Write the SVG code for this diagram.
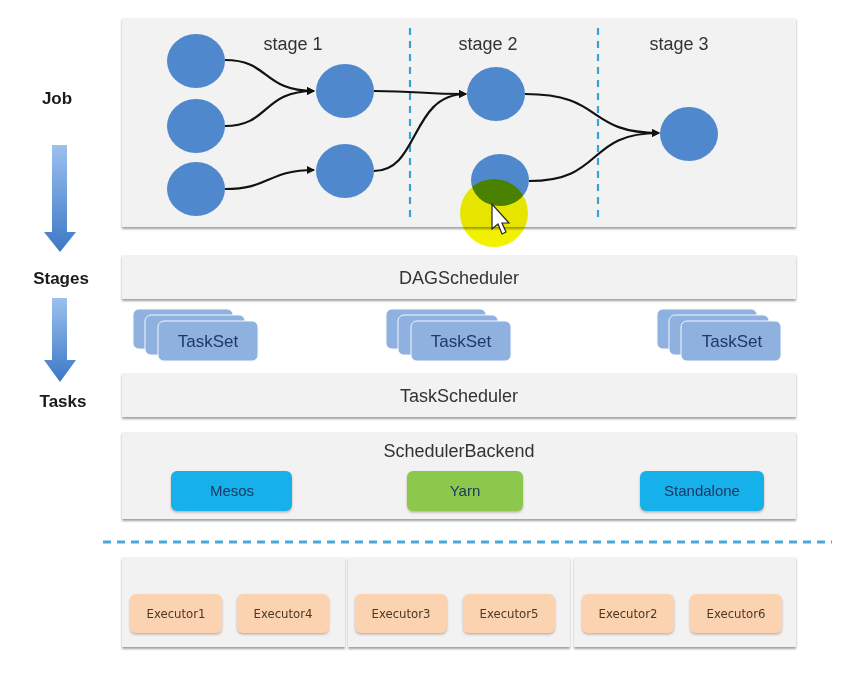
<svg xmlns="http://www.w3.org/2000/svg" width="859" height="689" viewBox="0 0 859 689">
<defs>
<style>
.panel{fill:#f2f2f2;filter:url(#sh)}
.node{fill:#4f88cc}
.edge{fill:none;stroke:#111;stroke-width:2.2;marker-end:url(#ah)}
.vdash{stroke:#3aa3d6;stroke-width:2.2;stroke-dasharray:7,6}
.lbl{font-family:"Liberation Sans",Arial,sans-serif;fill:#333;text-anchor:middle}
.side{font-family:"Liberation Sans",Arial,sans-serif;font-weight:bold;font-size:17px;fill:#1a1a1a;text-anchor:middle}
.ts{fill:#8eb1e0;stroke:#f4f7fb;stroke-width:1}
.tst{font-family:"Liberation Sans",Arial,sans-serif;font-size:17px;fill:#1f3864;text-anchor:middle}
.btn{font-family:"Liberation Sans",Arial,sans-serif;font-size:15px;fill:#1f3864;text-anchor:middle}
.ex{fill:#fbd3b0;filter:url(#sh2)}
.ext{font-family:"Liberation Sans Narrow","DejaVu Sans Condensed","Liberation Sans",sans-serif;font-size:13px;fill:#4a3826;text-anchor:middle}
</style>
<filter id="sh" x="-5%" y="-10%" width="110%" height="125%">
<feDropShadow dx="0" dy="2" stdDeviation="1" flood-color="#888" flood-opacity="0.8"/>
</filter>
<filter id="sh2" x="-10%" y="-10%" width="120%" height="130%">
<feDropShadow dx="0" dy="1.5" stdDeviation="1" flood-color="#a08070" flood-opacity="0.6"/>
</filter>
<marker id="ah" markerWidth="8" markerHeight="8" refX="7" refY="4" orient="auto" markerUnits="userSpaceOnUse">
<path d="M0,0 L8,4 L0,8 Z" fill="#111"/>
</marker>
<linearGradient id="ag" x1="0" y1="0" x2="0" y2="1">
<stop offset="0" stop-color="#9cc0ee"/>
<stop offset="1" stop-color="#3b78c6"/>
</linearGradient>
</defs>
<rect width="859" height="689" fill="#ffffff"/>

<!-- Left labels and arrows -->
<g id="side-labels">
<text class="side" x="57" y="104">Job</text>
<text class="side" x="61" y="284">Stages</text>
<text class="side" x="63" y="407">Tasks</text>
<path d="M52,145 L67,145 L67,232 L76,232 L60,252 L44,232 L52,232 Z" fill="url(#ag)"/>
<path d="M52,298 L67,298 L67,360 L76,360 L60,382 L44,360 L52,360 Z" fill="url(#ag)"/>
</g>

<!-- Job panel -->
<g id="job-panel">
<rect class="panel" x="122" y="18" width="674" height="209"/>
<line class="vdash" x1="410" y1="28" x2="410" y2="222"/>
<line class="vdash" x1="598" y1="28" x2="598" y2="222"/>
<text class="lbl" x="293" y="50" font-size="18">stage 1</text>
<text class="lbl" x="488" y="50" font-size="18">stage 2</text>
<text class="lbl" x="679" y="50" font-size="18">stage 3</text>
</g>

<g id="connectors">
<path class="edge" d="M225,60 C270,60 262,91 314,91"/>
<path class="edge" d="M225,126 C270,126 262,91 314,91"/>
<path class="edge" d="M225,189 C270,189 268,170 314,170"/>
<path class="edge" d="M374,91 C420,91 420,94 466,94"/>
<path class="edge" d="M374,171 C420,171 410,94 466,94"/>
<path class="edge" d="M525,94 C605,94 585,133 659,133"/>
<path class="edge" d="M529,181 C605,181 585,133 659,133"/>
</g>

<g id="n-a"><ellipse class="node" cx="196" cy="61" rx="29" ry="27"/></g>
<g id="n-b"><ellipse class="node" cx="196" cy="126" rx="29" ry="27"/></g>
<g id="n-c"><ellipse class="node" cx="196" cy="189" rx="29" ry="27"/></g>
<g id="n-d"><ellipse class="node" cx="345" cy="91" rx="29" ry="27"/></g>
<g id="n-e"><ellipse class="node" cx="345" cy="171" rx="29" ry="27"/></g>
<g id="n-f"><ellipse class="node" cx="496" cy="94" rx="29" ry="27"/></g>
<g id="n-g"><ellipse class="node" cx="500" cy="180" rx="29" ry="26"/></g>
<g id="n-h"><ellipse class="node" cx="689" cy="134" rx="29" ry="27"/></g>

<!-- cursor highlight -->
<g id="cursor">
<circle cx="494" cy="213" r="34" fill="#f2f200" style="mix-blend-mode:multiply"/>
<path d="M492,204 L492,229 L498,224 L502,234 L506,232 L502,223 L509,223 Z" fill="#fff" stroke="#222" stroke-width="1.2"/>
</g>

<!-- DAGScheduler -->
<g id="dag">
<rect class="panel" x="122" y="255" width="674" height="44"/>
<text class="lbl" x="459" y="284" font-size="18">DAGScheduler</text>
</g>

<!-- TaskSets -->
<g id="taskset-1">
<rect class="ts" x="133" y="309" width="100" height="40" rx="6"/>
<rect class="ts" x="145" y="315" width="100" height="40" rx="6"/>
<rect class="ts" x="158" y="321" width="100" height="40" rx="6"/>
<text class="tst" x="208" y="347">TaskSet</text>
</g>
<g id="taskset-2">
<rect class="ts" x="386" y="309" width="100" height="40" rx="6"/>
<rect class="ts" x="398" y="315" width="100" height="40" rx="6"/>
<rect class="ts" x="411" y="321" width="100" height="40" rx="6"/>
<text class="tst" x="461" y="347">TaskSet</text>
</g>
<g id="taskset-3">
<rect class="ts" x="657" y="309" width="100" height="40" rx="6"/>
<rect class="ts" x="669" y="315" width="100" height="40" rx="6"/>
<rect class="ts" x="681" y="321" width="100" height="40" rx="6"/>
<text class="tst" x="732" y="347">TaskSet</text>
</g>

<!-- TaskScheduler -->
<g id="taskscheduler">
<rect class="panel" x="122" y="373" width="674" height="44"/>
<text class="lbl" x="459" y="402" font-size="18">TaskScheduler</text>
</g>

<!-- SchedulerBackend -->
<g id="schedulerbackend">
<rect class="panel" x="122" y="432" width="674" height="87"/>
<text class="lbl" x="459" y="457" font-size="18">SchedulerBackend</text>
</g>
<g id="mesos">
<rect x="171" y="471" width="121" height="40" rx="6" fill="#12b0ea" filter="url(#sh2)"/>
<text class="btn" x="232" y="496">Mesos</text>
</g>
<g id="yarn">
<rect x="407" y="471" width="116" height="40" rx="6" fill="#8cc84b" filter="url(#sh2)"/>
<text class="btn" x="465" y="496">Yarn</text>
</g>
<g id="standalone">
<rect x="640" y="471" width="124" height="40" rx="6" fill="#12b0ea" filter="url(#sh2)"/>
<text class="btn" x="702" y="496">Standalone</text>
</g>

<line x1="103" y1="542" x2="832" y2="542" stroke="#4aa8d8" stroke-width="3" stroke-dasharray="8,6"/>

<!-- Executor panels -->
<g id="worker-1">
<rect class="panel" x="122" y="557" width="223" height="90"/>
</g>
<g id="worker-2">
<rect class="panel" x="348" y="557" width="222" height="90"/>
</g>
<g id="worker-3">
<rect class="panel" x="574" y="557" width="222" height="90"/>
</g>
<g id="executor1"><rect class="ex" x="130" y="594" width="92" height="39" rx="6"/><text class="ext" x="176" y="618">Executor1</text></g>
<g id="executor4"><rect class="ex" x="237" y="594" width="92" height="39" rx="6"/><text class="ext" x="283" y="618">Executor4</text></g>
<g id="executor3"><rect class="ex" x="355" y="594" width="92" height="39" rx="6"/><text class="ext" x="401" y="618">Executor3</text></g>
<g id="executor5"><rect class="ex" x="463" y="594" width="92" height="39" rx="6"/><text class="ext" x="509" y="618">Executor5</text></g>
<g id="executor2"><rect class="ex" x="582" y="594" width="92" height="39" rx="6"/><text class="ext" x="628" y="618">Executor2</text></g>
<g id="executor6"><rect class="ex" x="690" y="594" width="92" height="39" rx="6"/><text class="ext" x="736" y="618">Executor6</text></g>
</svg>
